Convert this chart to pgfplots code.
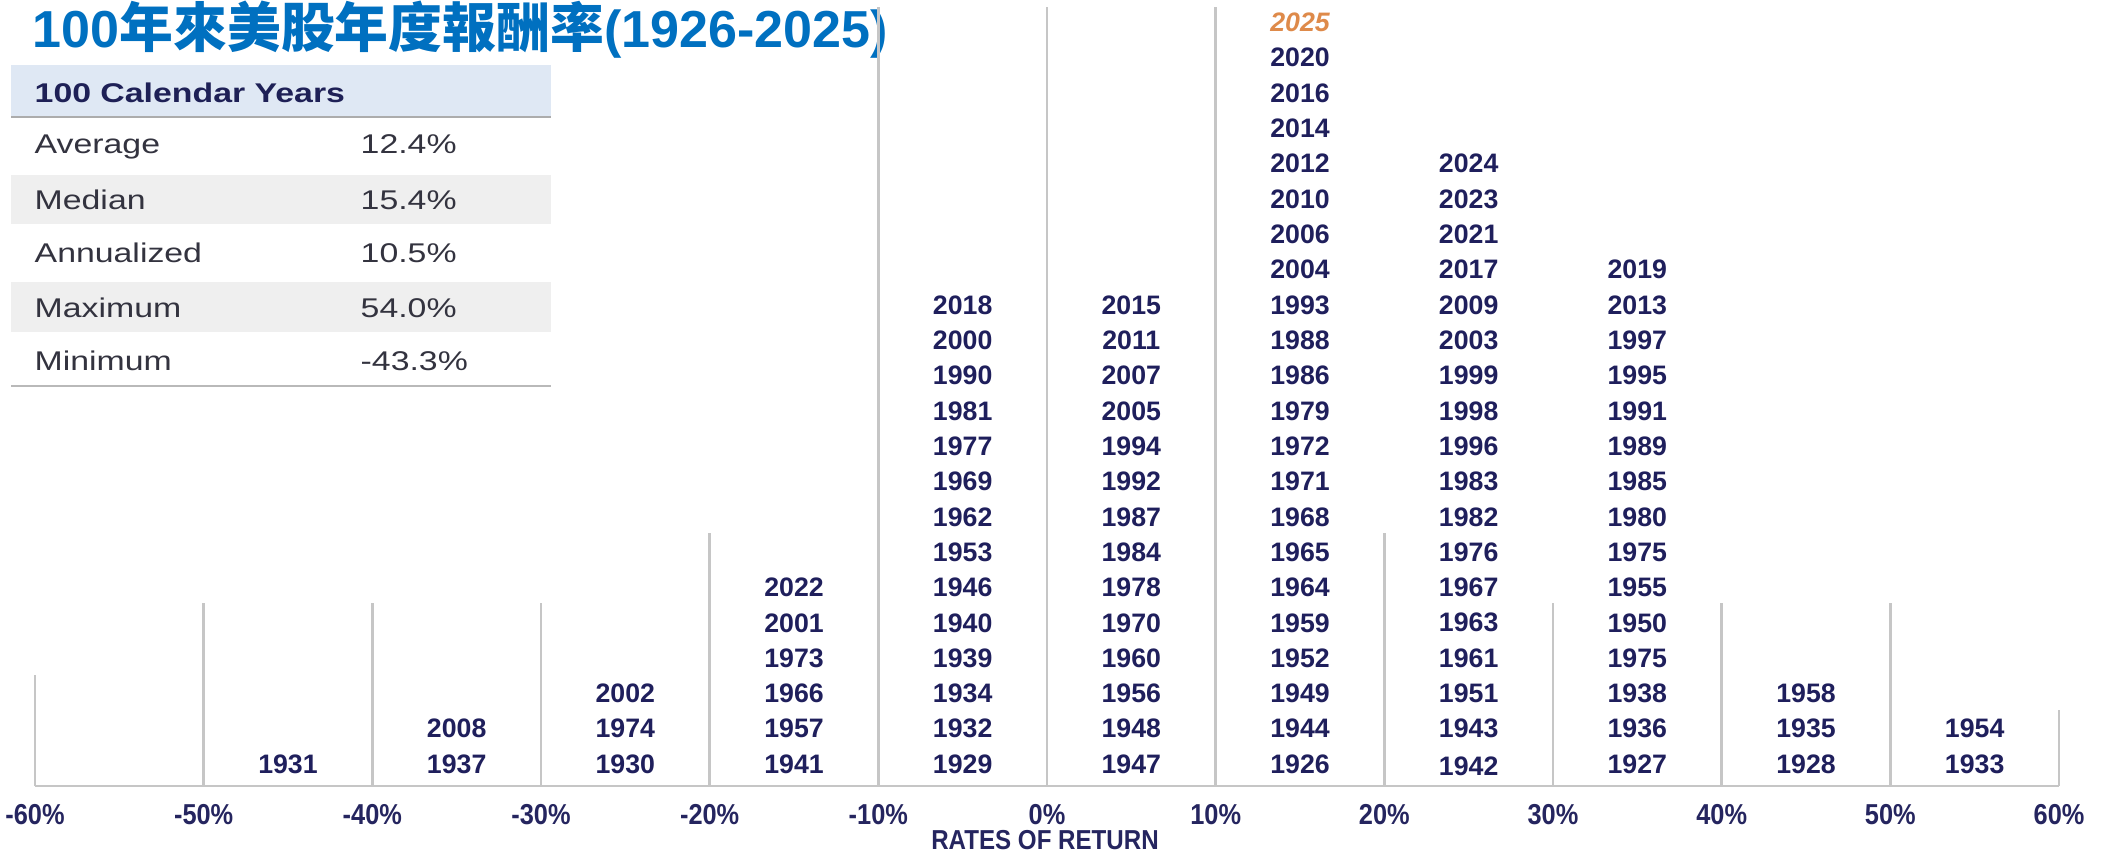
\documentclass[border=0pt]{standalone}
\usepackage{pgfplots}
\usepackage{pgfplotstable}
\pgfplotsset{compat=1.18}
\usepackage{fontspec}
\setmainfont{Liberation Sans}
\newfontfamily\yearfont{Liberation Sans}
\newfontfamily\tickfont[FakeStretch=0.88]{Liberation Sans}
\newfontfamily\tabfont[FakeStretch=1.25]{Liberation Sans}
\newfontfamily\cjk{Noto Sans CJK TC}
\definecolor{yearnavy}{HTML}{1F1F5C}
\definecolor{ticknavy}{HTML}{25255F}
\definecolor{titleblue}{HTML}{0070C0}
\definecolor{sepgray}{HTML}{C6C6C6}
\definecolor{hdrblue}{HTML}{DFE8F4}
\definecolor{hdrnavy}{HTML}{1E2056}
\definecolor{rowgray}{HTML}{EFEFEF}
\definecolor{tabtext}{HTML}{33333F}
\definecolor{orange25}{HTML}{DE8A4A}

\pgfplotstableread{
x y label
-45 0.62 1931
-35 0.62 1937
-35 1.62 2008
-25 0.62 1930
-25 1.62 1974
-25 2.62 2002
-15 0.62 1941
-15 1.62 1957
-15 2.62 1966
-15 3.62 1973
-15 4.62 2001
-15 5.62 2022
-5 0.62 1929
-5 1.62 1932
-5 2.62 1934
-5 3.62 1939
-5 4.62 1940
-5 5.62 1946
-5 6.62 1953
-5 7.62 1962
-5 8.62 1969
-5 9.62 1977
-5 10.62 1981
-5 11.62 1990
-5 12.62 2000
-5 13.62 2018
5 0.62 1947
5 1.62 1948
5 2.62 1956
5 3.62 1960
5 4.62 1970
5 5.62 1978
5 6.62 1984
5 7.62 1987
5 8.62 1992
5 9.62 1994
5 10.62 2005
5 11.62 2007
5 12.62 2011
5 13.62 2015
15 0.62 1926
15 1.62 1944
15 2.62 1949
15 3.62 1952
15 4.62 1959
15 5.62 1964
15 6.62 1965
15 7.62 1968
15 8.62 1971
15 9.62 1972
15 10.62 1979
15 11.62 1986
15 12.62 1988
15 13.62 1993
15 14.62 2004
15 15.62 2006
15 16.62 2010
15 17.62 2012
15 18.62 2014
15 19.62 2016
15 20.62 2020
25 0.55 1942
25 1.62 1943
25 2.62 1951
25 3.62 1961
25 4.62 1963
25 5.62 1967
25 6.62 1976
25 7.62 1982
25 8.62 1983
25 9.62 1996
25 10.62 1998
25 11.62 1999
25 12.62 2003
25 13.62 2009
25 14.62 2017
25 15.62 2021
25 16.62 2023
25 17.62 2024
35 0.62 1927
35 1.62 1936
35 2.62 1938
35 3.62 1975
35 4.62 1950
35 5.62 1955
35 6.62 1975
35 7.62 1980
35 8.62 1985
35 9.62 1989
35 10.62 1991
35 11.62 1995
35 12.62 1997
35 13.62 2013
35 14.62 2019
45 0.62 1928
45 1.62 1935
45 2.62 1958
55 0.62 1933
55 1.62 1954
}\yearsdata

\begin{document}
\begin{tikzpicture}
\path[use as bounding box] (0,0) rectangle (210.7mm,85.3mm);

% title and stats table (pixel-like units measured from the top)
\begin{scope}[x=0.1mm,y=-0.1mm,shift={(0mm,85.3mm)}]
\node[anchor=base west, inner sep=0pt, text=titleblue] at (32,47)
  {\resizebox{85.5mm}{!}{\bfseries\fontsize{14.5}{17}\selectfont 100{\cjk\fontsize{15}{18}\selectfont 年來美股年度報酬率}(1926-2025)}};
\fill[hdrblue] (11,65) rectangle (551,117);
\draw[gray!65, line width=0.25mm] (11,117) -- (551,117);
\fill[rowgray] (11,175) rectangle (551,224);
\fill[rowgray] (11,282) rectangle (551,332);
\draw[gray!55, line width=0.25mm] (11,386) -- (551,386);
\node[anchor=base west, inner sep=0pt, text=hdrnavy, font=\tabfont\bfseries\fontsize{7.7}{9}\selectfont] at (34,102) {100 Calendar Years};
\begin{scope}[every node/.style={anchor=base west, inner sep=0pt, text=tabtext, font=\tabfont\fontsize{7.7}{9}\selectfont}]
\node at (34,153) {Average};    \node at (360,153) {12.4\%};
\node at (34,209) {Median};     \node at (360,209) {15.4\%};
\node at (34,262) {Annualized}; \node at (360,262) {10.5\%};
\node at (34,317) {Maximum};    \node at (360,317) {54.0\%};
\node at (34,370) {Minimum};    \node at (360,370) {-43.3\%};
\end{scope}
\node[anchor=base, inner sep=0pt, text=ticknavy, font=\tickfont\bfseries\fontsize{7.8}{9}\selectfont] at (1045,849) {RATES OF RETURN};
\end{scope}

\begin{axis}[
  at={(3.5mm,6.7mm)}, anchor=south west,
  width=202.4mm, height=78.6mm, scale only axis,
  xmin=-60, xmax=60, ymin=0, ymax=22.25,
  axis y line=none, axis x line=bottom,
  x axis line style={draw=sepgray, line width=0.28mm, -},
  xtick={-60,-50,-40,-30,-20,-10,0,10,20,30,40,50,60},
  xticklabels={-60\%,-50\%,-40\%,-30\%,-20\%,-10\%,0\%,10\%,20\%,30\%,40\%,50\%,60\%},
  major tick length=0pt,
  xticklabel style={anchor=center, yshift=-2.85mm, inner sep=0pt,
    font=\tickfont\bfseries\fontsize{8.2}{9}\selectfont, text=ticknavy},
  clip=false,
]
\addplot[ycomb, draw=sepgray, line width=0.28mm, mark=none] coordinates {
  (-60,3.14) (-50,5.18) (-40,5.18) (-30,5.18) (-20,7.16) (-10,22.05)
  (0,22.05) (10,22.05) (20,7.16) (30,5.18) (40,5.18) (50,5.18) (60,2.15)};
\addplot[draw=none, mark=none, nodes near coords, point meta=explicit symbolic,
  nodes near coords style={anchor=center, inner sep=0pt,
    font=\yearfont\bfseries\fontsize{7.6}{8}\selectfont, text=yearnavy}]
  table[x=x, y=y, meta=label] {\yearsdata};
\addplot[draw=none, mark=none, nodes near coords, point meta=explicit symbolic,
  nodes near coords style={anchor=center, inner sep=0pt,
    font=\yearfont\bfseries\itshape\fontsize{7.6}{8}\selectfont, text=orange25}]
  coordinates {(15,21.62) [2025]};
\end{axis}
\end{tikzpicture}
\end{document}
